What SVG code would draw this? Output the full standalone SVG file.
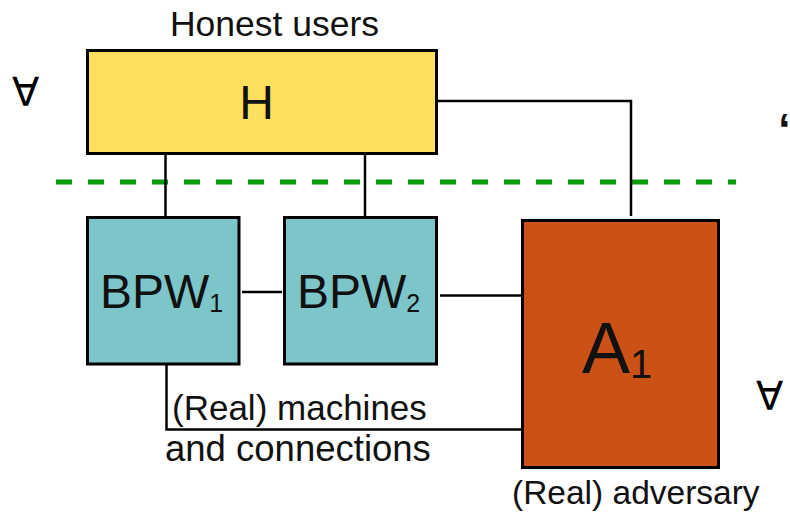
<svg xmlns="http://www.w3.org/2000/svg" width="790" height="516" viewBox="0 0 790 516">
  <style>
    .box { stroke: #000; stroke-width: 3; }
    .wire { fill: none; stroke: #000; stroke-width: 2.5; }
    .lbl { font-family: "Liberation Sans", Arial, Helvetica, sans-serif; fill: #111; }
    .sym { font-family: "DejaVu Sans", sans-serif; fill: #000; }
  </style>
  <rect width="790" height="516" fill="#fff"/>

  <!-- trust boundary -->
  <line x1="56" y1="182" x2="736" y2="182" stroke="#0a9a0a" stroke-width="5" stroke-dasharray="16 16"/>

  <!-- connectors -->
  <g id="connectors">
    <line class="wire" x1="165.5" y1="154" x2="165.5" y2="217"/>
    <line class="wire" x1="365" y1="154" x2="365" y2="217"/>
    <polyline class="wire" points="437,101 631,101 631,216"/>
    <line class="wire" x1="242" y1="292" x2="282" y2="292"/>
    <line class="wire" x1="440" y1="295.5" x2="521" y2="295.5"/>
    <polyline class="wire" points="166.5,364 166.5,429.5 521,429.5"/>
  </g>

  <g id="H">
    <rect class="box" x="87.5" y="50.5" width="349" height="103" fill="#fedf5e"/>
    <text class="lbl" x="256.5" y="119" font-size="48" text-anchor="middle">H</text>
  </g>

  <g id="BPW1">
    <rect class="box" x="87.5" y="217.5" width="151.5" height="146.5" fill="#7cc5c9"/>
    <text class="lbl" x="100" y="308" font-size="48">BPW<tspan font-size="25" dy="4">1</tspan></text>
  </g>

  <g id="BPW2">
    <rect class="box" x="284.5" y="217.5" width="152" height="146.5" fill="#7cc5c9"/>
    <text class="lbl" x="297" y="308" font-size="48">BPW<tspan font-size="25" dy="4">2</tspan></text>
  </g>

  <g id="A1">
    <rect class="box" x="522.5" y="220.5" width="196" height="247" fill="#cb5116"/>
    <text class="lbl" x="582" y="373" font-size="72">A<tspan font-size="40" dy="5">1</tspan></text>
  </g>

  <!-- captions -->
  <text class="lbl" x="274.5" y="36" font-size="35.5" text-anchor="middle">Honest users</text>
  <text class="lbl" x="172" y="420" font-size="35">(Real) machines</text>
  <text class="lbl" x="165" y="461" font-size="36.5">and connections</text>
  <text class="lbl" x="512" y="504" font-size="33.5">(Real) adversary</text>

  <!-- quantifiers -->
  <text class="sym" x="12" y="106" font-size="40">∀</text>
  <text class="sym" x="756" y="410" font-size="40">∀</text>
  <text class="lbl" x="778" y="145" font-size="44" font-weight="bold">“</text>
</svg>
